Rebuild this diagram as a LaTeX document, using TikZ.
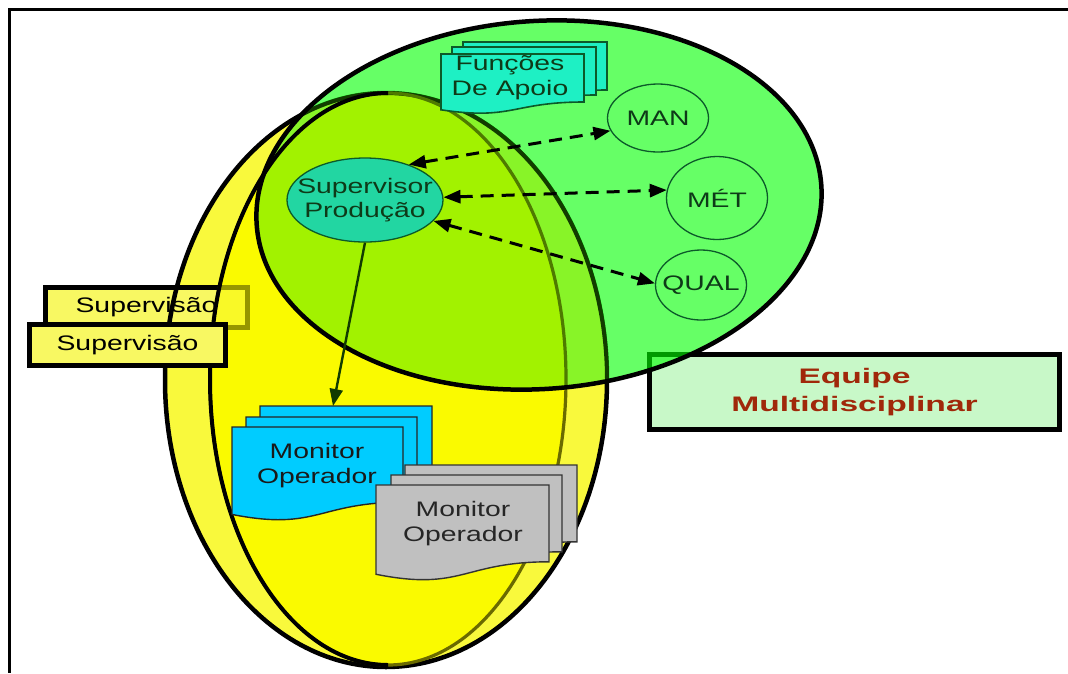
\documentclass[tikz,border=0pt]{standalone}
\usepackage{fontspec}
\setmainfont{Liberation Sans}[FakeStretch=1.35]
\newfontfamily\widebold{Liberation Sans}[FakeStretch=1.6]
\usepackage{tikz}
\usetikzlibrary{shapes.geometric, arrows.meta}

\definecolor{lightyellow}{HTML}{F9F93C}
\definecolor{brightyellow}{HTML}{FAFA00}
\definecolor{rimolive}{HTML}{6A6A00}
\definecolor{teamgreen}{HTML}{00FF00}
\definecolor{limeouter}{HTML}{88F428}
\definecolor{limeinner}{HTML}{A2F200}
\definecolor{rimdark}{HTML}{123C00}
\definecolor{rimlime}{HTML}{4E7A00}
\definecolor{apoiocyan}{HTML}{1EF0C4}
\definecolor{supteal}{HTML}{22D6A2}
\definecolor{linegreen}{HTML}{0C5A2A}
\definecolor{txtgreen}{HTML}{0E3A18}
\definecolor{monblue}{HTML}{00CCFF}
\definecolor{mongray}{HTML}{C0C0C0}
\definecolor{boxyellow}{HTML}{F8F862}
\definecolor{teambox}{HTML}{C8F8C8}
\definecolor{teamred}{HTML}{A0280A}

% page with a wavy bottom: left, top, width, height
\newcommand{\docpage}[4]{(#1,#2) -- ({#1+#3},#2) -- ({#1+#3},{#2+0.8*#4})
  .. controls ({#1+0.5*#3},{#2+0.8*#4}) and ({#1+0.5*#3},{#2+1.11*#4})
  .. (#1,{#2+0.93*#4}) -- cycle}

\begin{document}
\begin{tikzpicture}[x=1pt, y=-1pt, >={Triangle[length=17pt,width=13pt]}]
        \useasboundingbox (0,0) rectangle (1068,673);

        % Styles
        \tikzstyle{txt} = [inner sep=0pt, align=center,
        font=\fontsize{21}{25}\selectfont]
        \tikzstyle{supbox} = [rectangle, draw=black, line width=4.5pt,
        fill=boxyellow, inner sep=0pt, font=\fontsize{21}{25}\selectfont]
        \tikzstyle{topic} = [ellipse, draw=linegreen, line width=1.3pt,
        text=txtgreen, inner sep=0pt, inner xsep=-12pt,
        font=\fontsize{21}{25}\selectfont]
        \tikzstyle{link} = [<->, line width=3pt, dash pattern=on 13pt off 8pt]
        \tikzstyle{flow} = [->, line width=2.4pt, draw=rimdark]
        \tikzstyle{apoiopage} = [fill=apoiocyan, draw=linegreen, line width=1.6pt]
        \tikzstyle{bluepage} = [fill=monblue, draw=black!85, line width=1.4pt]
        \tikzstyle{graypage} = [fill=mongray, draw=black!80, line width=1.4pt]

        % Frame
        \draw[line width=2.5pt] (1068,9.5) -- (9.5,9.5) -- (9.5,673);

        % Yellow lens
        \fill[lightyellow] (386,380) ellipse [x radius=221, y radius=287];
        \fill[brightyellow] (388,379) ellipse [x radius=178, y radius=286];
        \node (supback) [supbox, minimum width=202pt, minimum height=40pt]
        at (146.5,307.5) {Supervisão};
        \fill[brightyellow, fill opacity=0.6] (388,379) ellipse [x radius=178, y radius=286];
        \draw[line width=4.5pt] (386,380) ellipse [x radius=221, y radius=287];
        \draw[rimolive, line width=3.2pt] (388,379) ellipse [x radius=178, y radius=286];
        \begin{scope}
          \clip (0,0) rectangle (388,673);
          \draw[line width=4pt] (388,379) ellipse [x radius=178, y radius=286];
        \end{scope}

        % Team box, under the green
        \node (equipe) [rectangle, draw=black, line width=4.5pt, fill=teambox,
        minimum width=410pt, minimum height=75pt, inner sep=0pt, align=center,
        text=teamred, font=\widebold\bfseries\fontsize{21}{28}\selectfont]
        at (854.5,392) {Equipe\\Multidisciplinar};

        % Green team area
        \fill[teamgreen, fill opacity=0.6, rotate around={4:(539,205)}]
        (539,205) ellipse [x radius=283, y radius=184];
        \begin{scope}
          \clip[rotate around={4:(539,205)}] (539,205) ellipse [x radius=283, y radius=184];
          \fill[limeouter] (386,380) ellipse [x radius=221, y radius=287];
          \fill[limeinner] (388,379) ellipse [x radius=178, y radius=286];
          \draw[rimdark, line width=4pt] (386,380) ellipse [x radius=221, y radius=287];
          \draw[rimlime, line width=3.2pt] (388,379) ellipse [x radius=178, y radius=286];
          \clip (0,0) rectangle (388,673);
          \draw[line width=4pt] (388,379) ellipse [x radius=178, y radius=286];
        \end{scope}
        \draw[line width=4.5pt, rotate around={4:(539,205)}]
        (539,205) ellipse [x radius=283, y radius=184];

        % Support pages
        \filldraw[apoiopage] \docpage{463}{42}{144}{60};
        \filldraw[apoiopage] \docpage{452}{47}{144}{60};
        \filldraw[apoiopage] \docpage{441}{54}{143}{60};
        \node (apoio) [txt, text=txtgreen] at (510,78) {Funções\\De Apoio};

        % Nodes
        \node (super) [ellipse, fill=supteal, draw=linegreen, line width=1.3pt,
        minimum width=156pt, minimum height=84pt, inner xsep=-20pt, inner ysep=0pt,
        align=center, text=txtgreen, font=\fontsize{21}{24}\selectfont]
        at (365,200) {Supervisor\\Produção};
        \node (man) [topic, minimum width=101pt, minimum height=68pt] at (658,118) {MAN};
        \node (met) [topic, minimum width=101pt, minimum height=83pt] at (717,198) {MÉT};
        \node (qual) [topic, minimum width=91pt, minimum height=70pt] at (701,285) {QUAL};

        % Monitor pages
        \filldraw[bluepage] \docpage{260}{406}{172}{94};
        \filldraw[bluepage] \docpage{246}{417}{171}{94};
        \filldraw[bluepage] \docpage{232}{427}{171}{94};
        \node (monblue) [txt, text=black!90] at (317,466) {Monitor\\Operador};
        \coordinate (montop) at (333,406);
        \filldraw[graypage] \docpage{405}{465}{172}{96};
        \filldraw[graypage] \docpage{391}{475}{171}{96};
        \filldraw[graypage] \docpage{376}{485}{173}{96};
        \node (mongray) [txt, text=black!85] at (463,524) {Monitor\\Operador};

        % Arrows
        \draw[link] (super.39) -- (man.195);
        \draw[link] (super.2) -- (met.171);
        \draw[link] (super.-17) -- (qual.178);
        \draw[flow] (super.south) -- (montop);

        \node (supfront) [supbox, minimum width=196pt, minimum height=41pt]
        at (127.5,345) {Supervisão};
\end{tikzpicture}
\end{document}
